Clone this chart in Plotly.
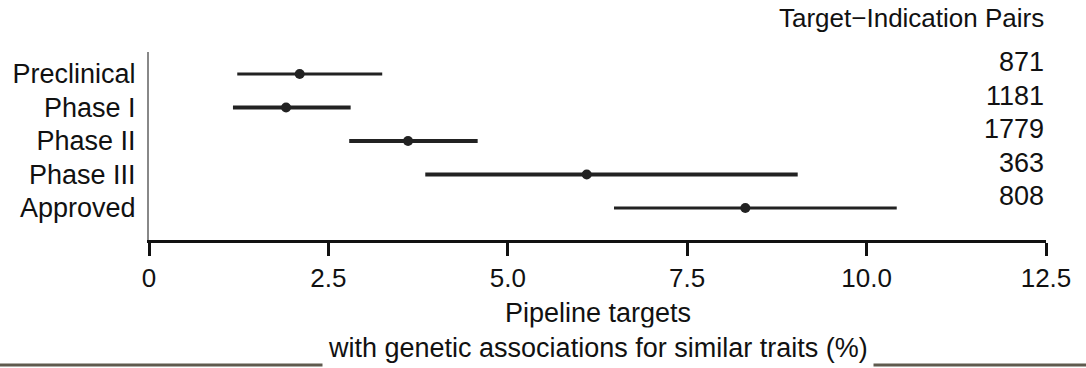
import plotly.graph_objects as go

phases = ["Preclinical", "Phase I", "Phase II", "Phase III", "Approved"]
estimate = [2.10, 1.91, 3.61, 6.10, 8.31]
ci_low = [1.23, 1.17, 2.79, 3.85, 6.48]
ci_high = [3.25, 2.81, 4.58, 9.04, 10.42]
pairs = ["871", "1181", "1779", "363", "808"]
line_widths = [3, 4, 4, 4, 3]

x_ticks = [0, 2.5, 5.0, 7.5, 10.0, 12.5]
x_ticktext = ["0", "2.5", "5.0", "7.5", "10.0", "12.5"]

FONT = "Liberation Sans, Arial, sans-serif"
TXT = "#111111"

fig = go.Figure()
for i, ph in enumerate(phases):
    fig.add_trace(go.Scatter(
        x=[estimate[i]], y=[ph], mode="markers",
        marker=dict(size=10, color="#222222"),
        error_x=dict(type="data", symmetric=False,
                     array=[ci_high[i] - estimate[i]],
                     arrayminus=[estimate[i] - ci_low[i]],
                     width=0, thickness=line_widths[i], color="#222222"),
        showlegend=False, hoverinfo="skip"))

for i, ph in enumerate(phases):
    fig.add_annotation(x=1, xref="paper", y=ph, yref="y", text=pairs[i],
                       xanchor="right", yanchor="middle", yshift=12, showarrow=False,
                       font=dict(size=27, color=TXT, family=FONT))

fig.add_annotation(x=1, xref="paper", y=(240 - 18) / 188, yref="paper",
                   text="Target\u2212Indication Pairs",
                   xanchor="right", yanchor="middle", showarrow=False,
                   font=dict(size=26, color=TXT, family=FONT))

fig.add_annotation(x=0.5, xref="paper", y=(240 - 313) / 188, yref="paper", text="Pipeline targets",
                   xanchor="center", yanchor="middle", showarrow=False,
                   font=dict(size=27, color=TXT, family=FONT))
fig.add_annotation(x=0.5, xref="paper", y=(240 - 348) / 188, yref="paper",
                   text="with genetic associations for similar traits (%)",
                   xanchor="center", yanchor="middle", showarrow=False, bgcolor="white",
                   borderpad=5,
                   font=dict(size=27, color=TXT, family=FONT))

fig.add_shape(type="line", xref="paper", yref="paper", x0=-0.2, x1=1.1,
              y0=(240 - 365) / 188, y1=(240 - 365) / 188,
              line=dict(color="#5f5a4e", width=3), layer="below")

fig.update_layout(
    width=1086, height=368,
    margin=dict(l=149, r=40, t=52, b=128),
    paper_bgcolor="white", plot_bgcolor="white",
    xaxis=dict(range=[0, 12.5], tickvals=x_ticks, ticktext=x_ticktext,
               showgrid=False, zeroline=False, showline=True, linecolor="#111111", linewidth=3,
               ticks="outside", ticklen=13, tickwidth=3, tickcolor="#111111",
               tickfont=dict(size=26, color=TXT, family=FONT)),
    yaxis=dict(type="category", categoryarray=phases, range=[4.955, -0.657],
               showgrid=False, zeroline=False, showline=True, linecolor="#888888", linewidth=2,
               ticks="", ticklabelstandoff=6,
               tickfont=dict(size=27, color=TXT, family=FONT)),
)

fig.write_html("out.html", config={"displayModeBar": False},
               post_script="document.body.style.margin='0';document.body.style.overflow='hidden';")
